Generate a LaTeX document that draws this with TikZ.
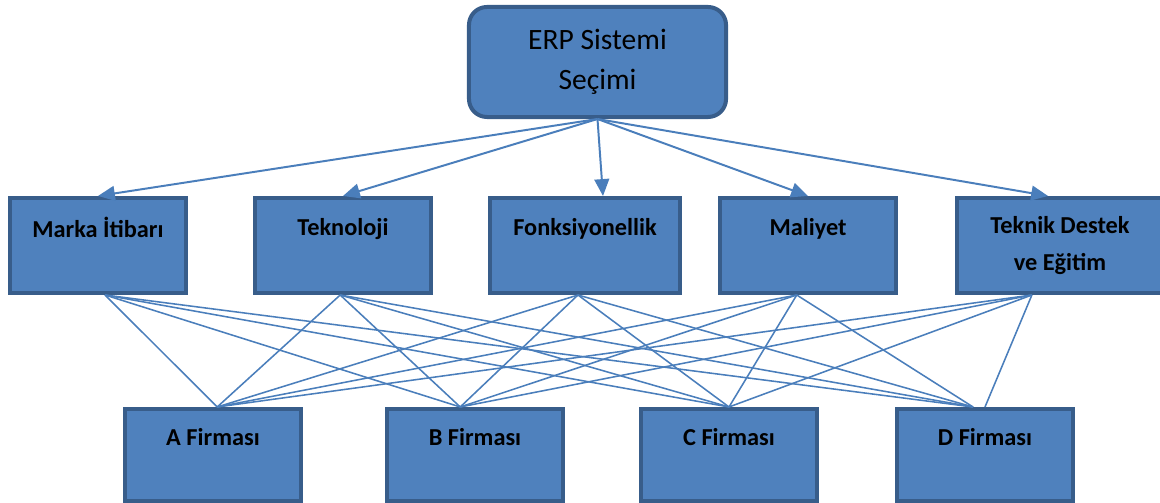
\documentclass[tikz,border=0pt]{standalone}
\usepackage{fontspec}
\setmainfont{Carlito}
\usetikzlibrary{shapes,arrows.meta,positioning}
\definecolor{boxfill}{HTML}{4F81BD}
\definecolor{boxline}{HTML}{385D8A}
\definecolor{linkline}{HTML}{4A7EBB}

\begin{document}
\begin{tikzpicture}[x=0.025cm,y=-0.025cm,>={Triangle[length=12pt,width=10.5pt]}]
                \tikzstyle{goal}=[draw=boxline,fill=boxfill,line width=2.85pt,rounded corners=12.8pt,minimum width=6.425cm,minimum height=2.75cm,inner sep=0pt,align=center,font=\fontsize{21}{28.4}\selectfont]
                \tikzstyle{criterion}=[draw=boxline,fill=boxfill,line width=2.85pt,minimum width=4.4cm,minimum height=2.375cm,inner sep=0pt,align=center,font=\fontsize{17.3}{26.3}\selectfont\bfseries]
                \tikzstyle{company}=[criterion,minimum height=2.3cm]
                \tikzstyle{main-arrow}=[->,draw=linkline,line width=1.4pt]
                \tikzstyle{firm-link}=[draw=linkline,line width=1.1pt]
                
                \clip (0,0) rectangle (1160,503);
                
                \node[goal] (erp) at (597.5,62) {ERP Sistemi\\Seçimi};
                
                \node[criterion] (marka) at (98,245.5) {Marka İtibarı\\~};
                \node[criterion] (tekno) at (343,245.5) {Teknoloji\\~};
                \node[criterion,minimum width=4.75cm] (fonks) at (585,245.5) {Fonksiyonellik\\~};
                \node[criterion] (maliyet) at (808,245.5) {Maliyet\\~};
                \node[criterion,minimum width=5.15cm] (teknik) at (1060,245.5) {Teknik Destek\\ve Eğitim};
                
                \node[company] (a) at (213,455) {A Firması\\~};
                \node[company] (b) at (475,455) {B Firması\\~};
                \node[company] (c) at (729,455) {C Firması\\~};
                \node[company] (d) at (985,455) {D Firması\\~};
                
                \path (erp.south) edge[main-arrow] (marka.north)
                                  edge[main-arrow] (tekno.north)
                                  edge[main-arrow] ([xshift=12.8pt]fonks.north)
                                  edge[main-arrow] (maliyet.north)
                                  edge[main-arrow] ([xshift=-8.5pt]teknik.north);
                
                \path ([xshift=5pt]marka.south) edge[firm-link] ([xshift=3pt]a.north) edge[firm-link] ([xshift=-10.5pt]b.north) edge[firm-link] (c.north) edge[firm-link] ([xshift=-8.5pt]d.north);
                \path ([xshift=-2pt]tekno.south) edge[firm-link] ([xshift=3pt]a.north) edge[firm-link] ([xshift=-10.5pt]b.north) edge[firm-link] (c.north) edge[firm-link] ([xshift=-8.5pt]d.north);
                \path ([xshift=-5pt]fonks.south) edge[firm-link] ([xshift=3pt]a.north) edge[firm-link] ([xshift=-10.5pt]b.north) edge[firm-link] (c.north) edge[firm-link] ([xshift=-8.5pt]d.north);
                \path ([xshift=-8pt]maliyet.south) edge[firm-link] ([xshift=3pt]a.north) edge[firm-link] ([xshift=-10.5pt]b.north) edge[firm-link] (c.north) edge[firm-link] ([xshift=-8.5pt]d.north);
                \path ([xshift=-20pt]teknik.south) edge[firm-link] ([xshift=3pt]a.north) edge[firm-link] ([xshift=-10.5pt]b.north) edge[firm-link] (c.north) edge[firm-link] (d.north);
\end{tikzpicture}
\end{document}
